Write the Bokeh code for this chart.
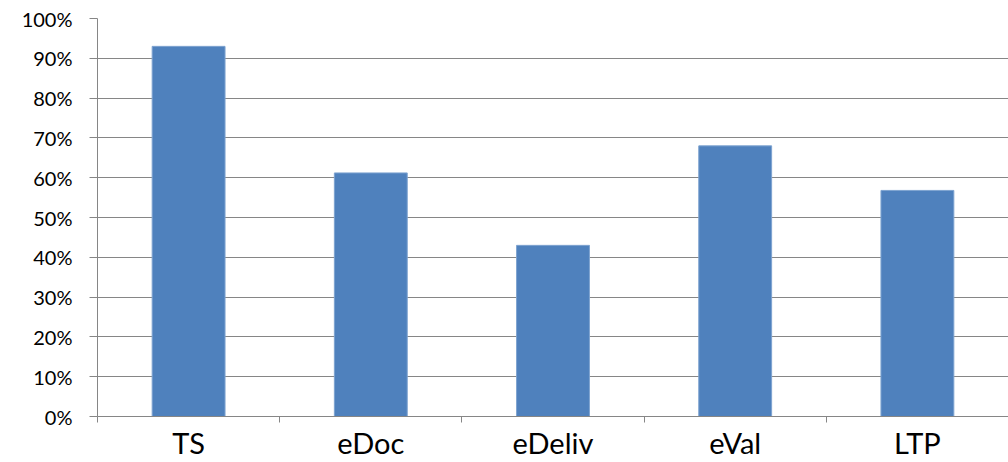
from bokeh.plotting import figure
from bokeh.models import FixedTicker, NumeralTickFormatter, Range1d, ColumnDataSource
from bokeh.embed import file_html
from bokeh.resources import INLINE

categories = ["TS", "eDoc", "eDeliv", "eVal", "LTP"]
values = [0.93, 0.612, 0.43, 0.68, 0.568]

xs = [i + 0.5 for i in range(len(categories))]
src = ColumnDataSource(dict(x=xs, top=values))

p = figure(width=1008, height=462, output_backend="svg", toolbar_location=None,
           x_range=Range1d(0, len(categories)), y_range=Range1d(0, 1),
           min_border_left=97, min_border_right=0, min_border_top=18)
p.outline_line_color = None
p.vbar(x="x", top="top", width=0.4, source=src, fill_color="#4F81BD", line_color="#7EA3D0", line_width=1)

font = "Lato"
# x axis
p.xaxis.ticker = FixedTicker(ticks=xs, minor_ticks=list(range(len(categories) + 1)))
p.xaxis.major_label_overrides = {x: c for x, c in zip(xs, categories)}
p.xaxis.major_tick_out = 0
p.xaxis.major_tick_in = 0
p.xaxis.minor_tick_out = 6
p.xaxis.minor_tick_in = 0
p.xaxis.minor_tick_line_color = "#868686"
p.xaxis.axis_line_color = "#868686"
p.xaxis.major_label_text_font_size = "29px"
p.xaxis.major_label_text_font = font
p.xaxis.major_label_text_color = "#000000"
p.xaxis.major_label_standoff = 2

# y axis
p.yaxis.ticker = FixedTicker(ticks=[i / 10 for i in range(11)])
p.yaxis.formatter = NumeralTickFormatter(format="0%")
p.yaxis.major_tick_out = 8
p.yaxis.major_tick_in = 0
p.yaxis.minor_tick_out = 0
p.yaxis.minor_tick_in = 0
p.yaxis.major_tick_line_color = "#868686"
p.yaxis.axis_line_color = "#868686"
p.yaxis.major_label_text_font_size = "20px"
p.yaxis.major_label_text_font = font
p.yaxis.major_label_text_color = "#000000"
p.yaxis.major_label_standoff = 17

p.xgrid.grid_line_color = None
p.ygrid.grid_line_color = "#868686"
p.ygrid.grid_line_width = 1
p.ygrid.ticker = FixedTicker(ticks=[i / 10 for i in range(1, 11)])

open("out.html", "w").write(file_html(p, INLINE))
